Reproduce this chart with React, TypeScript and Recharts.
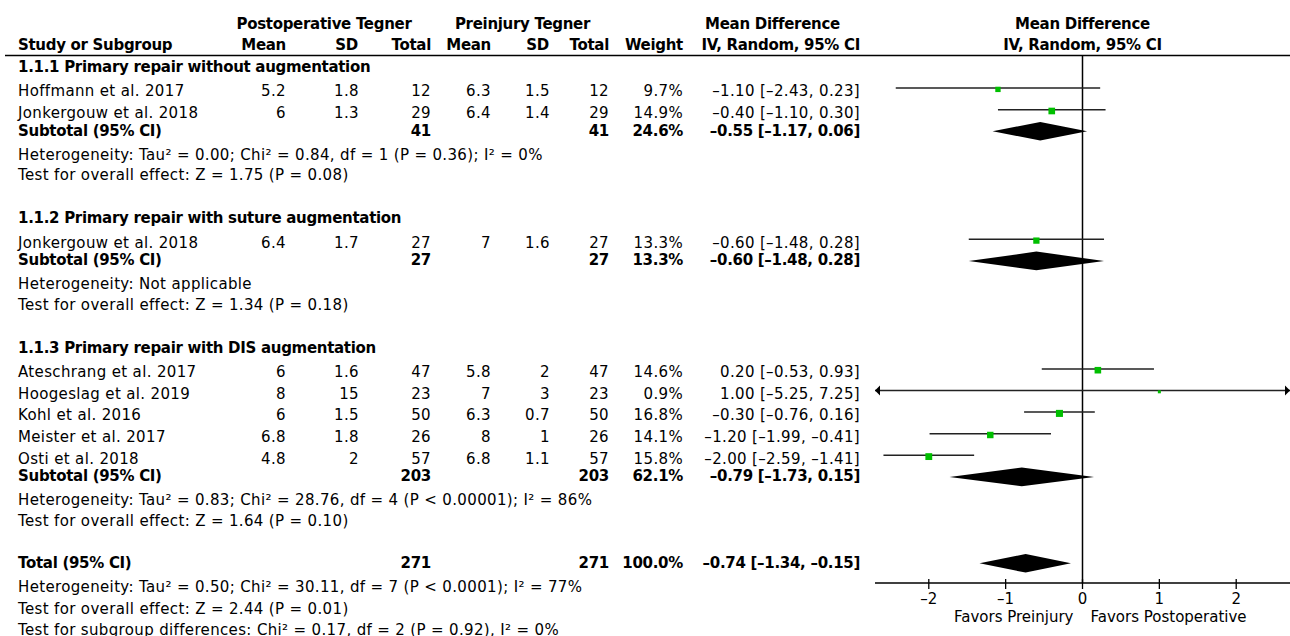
import React from 'react';
import { ComposedChart, XAxis, YAxis, Scatter, Area, ReferenceLine, Customized } from 'recharts';

// ---------------- data ----------------
const subgroupNames = [
  '1.1.1 Primary repair without augmentation',
  '1.1.2 Primary repair with suture augmentation',
  '1.1.3 Primary repair with DIS augmentation',
];
const studyNames = [
  'Hoffmann et al. 2017',
  'Jonkergouw et al. 2018',
  'Jonkergouw et al. 2018',
  'Ateschrang et al. 2017',
  'Hoogeslag et al. 2019',
  'Kohl et al. 2016',
  'Meister et al. 2017',
  'Osti et al. 2018',
];
const studyGroup = [0, 0, 1, 2, 2, 2, 2, 2];
const postMean = [5.2, 6, 6.4, 6, 8, 6, 6.8, 4.8];
const postSD = [1.8, 1.3, 1.7, 1.6, 15, 1.5, 1.8, 2];
const postN = [12, 29, 27, 47, 23, 50, 26, 57];
const preMean = [6.3, 6.4, 7, 5.8, 7, 6.3, 8, 6.8];
const preSD = [1.5, 1.4, 1.6, 2, 3, 0.7, 1, 1.1];
const preN = [12, 29, 27, 47, 23, 50, 26, 57];
const weights = [9.7, 14.9, 13.3, 14.6, 0.9, 16.8, 14.1, 15.8];
const md = [-1.1, -0.4, -0.6, 0.2, 1.0, -0.3, -1.2, -2.0];
const ciLow = [-2.43, -1.1, -1.48, -0.53, -5.25, -0.76, -1.99, -2.59];
const ciHigh = [0.23, 0.3, 0.28, 0.93, 7.25, 0.16, -0.41, -1.41];

const subPostN = [41, 27, 203];
const subPreN = [41, 27, 203];
const subWeight = [24.6, 13.3, 62.1];
const subMd = [-0.55, -0.6, -0.79];
const subLow = [-1.17, -1.48, -1.73];
const subHigh = [0.06, 0.28, 0.15];
const subHet = [
  'Heterogeneity: Tau² = 0.00; Chi² = 0.84, df = 1 (P = 0.36); I² = 0%',
  'Heterogeneity: Not applicable',
  'Heterogeneity: Tau² = 0.83; Chi² = 28.76, df = 4 (P < 0.00001); I² = 86%',
];
const subTest = [
  'Test for overall effect: Z = 1.75 (P = 0.08)',
  'Test for overall effect: Z = 1.34 (P = 0.18)',
  'Test for overall effect: Z = 1.64 (P = 0.10)',
];

const totalPostN = 271;
const totalPreN = 271;
const totalWeight = 100.0;
const totalMd = -0.74;
const totalLow = -1.34;
const totalHigh = -0.15;
const totalHet = 'Heterogeneity: Tau² = 0.50; Chi² = 30.11, df = 7 (P < 0.0001); I² = 77%';
const totalTest = 'Test for overall effect: Z = 2.44 (P = 0.01)';
const subgroupDiff = 'Test for subgroup differences: Chi² = 0.17, df = 2 (P = 0.92), I² = 0%';

const xTicks = [-2, -1, 0, 1, 2];
const favorsLeft = 'Favors Preinjury';
const favorsRight = 'Favors Postoperative';

// ---------------- layout ----------------
const W = 1290;
const H = 636;
const PLOT_LEFT = 875;
const PLOT_TOP = 56;
const PLOT_BOTTOM = 583;
const FIRST_ROW_Y = 66.5;
const ROW_H = 21.6;
const X_DOMAIN: [number, number] = [-2.7, 2.7];
const Y_DOMAIN: [number, number] = [(PLOT_TOP - FIRST_ROW_Y) / ROW_H, (PLOT_BOTTOM - FIRST_ROW_Y) / ROW_H];
const DIAMOND_HALF = 9.3 / ROW_H;

const FONT = 'DejaVu Sans';
const COL = { name: 18, m1: 286, s1: 359, n1: 431, m2: 491, s2: 550, n2: 609, w: 683, ci: 860 };
const BASE_OFF: Record<string, number> = {
  group: 5.3, study: 8.3, subtotal: 4.5, het: 6.7, test: 5.6, total: 4.5, totalHet: 7.4, totalTest: 7.0, subTest: 7.2,
};

type Row = { kind: string; r: number; i?: number; g?: number };
const rows: Row[] = [];
const rowOfStudy: number[] = [];
const rowOfSub: number[] = [];
let rr = 0;
subgroupNames.forEach((_, g) => {
  rows.push({ kind: 'group', r: rr++, g });
  studyGroup.forEach((sg, i) => {
    if (sg === g) {
      rowOfStudy[i] = rr;
      rows.push({ kind: 'study', r: rr++, i });
    }
  });
  rowOfSub[g] = rr;
  rows.push({ kind: 'subtotal', r: rr++, g });
  rows.push({ kind: 'het', r: rr++, g });
  rows.push({ kind: 'test', r: rr++, g });
  rr++;
});
const totalRow = rr;
rows.push({ kind: 'total', r: rr++ });
rows.push({ kind: 'totalHet', r: rr++ });
rows.push({ kind: 'totalTest', r: rr++ });
rows.push({ kind: 'subTest', r: rr++ });

const fmt = (v: number) => v.toFixed(2).replace('-', '–');
const ciText = (m: number, lo: number, hi: number) => `${fmt(m)} [${fmt(lo)}, ${fmt(hi)}]`;
const pct = (w: number) => `${w.toFixed(1)}%`;

const reg = { fontFamily: FONT, fontSize: 15, fill: '#000', letterSpacing: 0.35 } as const;
const bold = { fontFamily: FONT, fontSize: 15, fill: '#000', fontWeight: 700, letterSpacing: -0.3 } as const;

const T = ({ x, y, a = 'end', b = false, children }: any) => (
  <text x={x} y={y} textAnchor={a} style={b ? bold : reg}>{children}</text>
);

const TableText = () => {
  const els: any[] = [];
  rows.forEach((row, k) => {
    const y = FIRST_ROW_Y + row.r * ROW_H + BASE_OFF[row.kind];
    if (row.kind === 'group') {
      els.push(<T key={k} x={COL.name} y={y} a="start" b>{subgroupNames[row.g!]}</T>);
    } else if (row.kind === 'study') {
      const i = row.i!;
      els.push(
        <g key={k}>
          <T x={COL.name} y={y} a="start">{studyNames[i]}</T>
          <T x={COL.m1} y={y}>{String(postMean[i])}</T>
          <T x={COL.s1} y={y}>{String(postSD[i])}</T>
          <T x={COL.n1} y={y}>{String(postN[i])}</T>
          <T x={COL.m2} y={y}>{String(preMean[i])}</T>
          <T x={COL.s2} y={y}>{String(preSD[i])}</T>
          <T x={COL.n2} y={y}>{String(preN[i])}</T>
          <T x={COL.w} y={y}>{pct(weights[i])}</T>
          <T x={COL.ci} y={y}>{ciText(md[i], ciLow[i], ciHigh[i])}</T>
        </g>
      );
    } else if (row.kind === 'subtotal') {
      const g = row.g!;
      els.push(
        <g key={k}>
          <T x={COL.name} y={y} a="start" b>Subtotal (95% CI)</T>
          <T x={COL.n1} y={y} b>{String(subPostN[g])}</T>
          <T x={COL.n2} y={y} b>{String(subPreN[g])}</T>
          <T x={COL.w} y={y} b>{pct(subWeight[g])}</T>
          <T x={COL.ci} y={y} b>{ciText(subMd[g], subLow[g], subHigh[g])}</T>
        </g>
      );
    } else if (row.kind === 'het') {
      els.push(<T key={k} x={COL.name} y={y} a="start">{subHet[row.g!]}</T>);
    } else if (row.kind === 'test') {
      els.push(<T key={k} x={COL.name} y={y} a="start">{subTest[row.g!]}</T>);
    } else if (row.kind === 'total') {
      els.push(
        <g key={k}>
          <T x={COL.name} y={y} a="start" b>Total (95% CI)</T>
          <T x={COL.n1} y={y} b>{String(totalPostN)}</T>
          <T x={COL.n2} y={y} b>{String(totalPreN)}</T>
          <T x={COL.w} y={y} b>{pct(totalWeight)}</T>
          <T x={COL.ci} y={y} b>{ciText(totalMd, totalLow, totalHigh)}</T>
        </g>
      );
    } else if (row.kind === 'totalHet') {
      els.push(<T key={k} x={COL.name} y={y} a="start">{totalHet}</T>);
    } else if (row.kind === 'totalTest') {
      els.push(<T key={k} x={COL.name} y={y} a="start">{totalTest}</T>);
    } else if (row.kind === 'subTest') {
      els.push(<T key={k} x={COL.name} y={y} a="start">{subgroupDiff}</T>);
    }
  });
  return (
    <g>
      <T x={324} y={29} a="middle" b>Postoperative Tegner</T>
      <T x={522.5} y={29} a="middle" b>Preinjury Tegner</T>
      <T x={772.5} y={29} a="middle" b>Mean Difference</T>
      <T x={COL.name} y={50} a="start" b>Study or Subgroup</T>
      <T x={COL.m1} y={50} b>Mean</T>
      <T x={COL.s1 - 1} y={50} b>SD</T>
      <T x={COL.n1} y={50} b>Total</T>
      <T x={COL.m2} y={50} b>Mean</T>
      <T x={COL.s2 - 1} y={50} b>SD</T>
      <T x={COL.n2} y={50} b>Total</T>
      <T x={COL.w} y={50} b>Weight</T>
      <T x={COL.ci} y={50} b>IV, Random, 95% CI</T>
      <line x1={5} x2={W} y1={55.5} y2={55.5} stroke="#000" strokeWidth={1.5} />
      {els}
    </g>
  );
};

const AxisTick = (props: any) => {
  const { x, y, payload } = props;
  const v = payload.value as number;
  const label = v < 0 ? `–${Math.abs(v)}` : String(v);
  return (
    <g>
      <line x1={x} x2={x} y1={y - 4} y2={y + 6} stroke="#000" strokeWidth={1.3} />
      <text x={x} y={y + 20.5} textAnchor="middle" style={{ fontFamily: FONT, fontSize: 15, fill: '#000' }}>{label}</text>
      {v === 0 && (
        <g>
          <text x={x - 9} y={y + 38.5} textAnchor="end" style={{ fontFamily: FONT, fontSize: 15, fill: '#000' }}>{favorsLeft}</text>
          <text x={x + 8} y={y + 38.5} textAnchor="start" style={{ fontFamily: FONT, fontSize: 15, fill: '#000' }}>{favorsRight}</text>
        </g>
      )}
    </g>
  );
};

const HeaderLabel = (props: any) => {
  const vb = props.viewBox || {};
  const x = vb.x;
  return (
    <g>
      <text x={x} y={29} textAnchor="middle" style={bold}>Mean Difference</text>
      <text x={x} y={50} textAnchor="middle" style={bold}>IV, Random, 95% CI</text>
    </g>
  );
};

const CiEnd = (props: any) => {
  const { cx, cy, payload } = props;
  if (payload && payload.arrow === 'left') {
    return <polygon points={`${cx},${cy} ${cx + 5},${cy - 5} ${cx + 5},${cy + 5}`} fill="#000" />;
  }
  if (payload && payload.arrow === 'right') {
    return <polygon points={`${cx},${cy} ${cx - 5},${cy - 5} ${cx - 5},${cy + 5}`} fill="#000" />;
  }
  return <g />;
};

const SquareShape = (props: any) => {
  const { cx, cy, payload } = props;
  const s = Math.max(3, 1.72 * Math.sqrt(payload.w));
  return <rect x={cx - s / 2} y={cy - s / 2 + 1.3} width={s} height={s} fill="#00BF00" />;
};

export default function App() {
  const ciSeries = studyNames.map((_, i) => {
    const r = rowOfStudy[i];
    return [
      { x: Math.max(ciLow[i], X_DOMAIN[0]), y: r, arrow: ciLow[i] < X_DOMAIN[0] ? 'left' : '' },
      { x: Math.min(ciHigh[i], X_DOMAIN[1]), y: r, arrow: ciHigh[i] > X_DOMAIN[1] ? 'right' : '' },
    ];
  });
  const squares = studyNames.map((_, i) => ({ x: md[i], y: rowOfStudy[i], w: weights[i] }));
  const diamond = (est: number, lo: number, hi: number, r: number) => [
    { x: lo, band: [r, r] },
    { x: est, band: [r - DIAMOND_HALF, r + DIAMOND_HALF] },
    { x: hi, band: [r, r] },
  ];
  const diamonds = subgroupNames.map((_, g) => diamond(subMd[g], subLow[g], subHigh[g], rowOfSub[g]));
  diamonds.push(diamond(totalMd, totalLow, totalHigh, totalRow));

  return (
    <div style={{ position: 'absolute', left: 0, top: 0, width: W, height: H, background: '#fff' }}>
      <ComposedChart width={W} height={H} margin={{ top: PLOT_TOP, right: 0, bottom: 0, left: PLOT_LEFT }}>
        <XAxis
          type="number"
          dataKey="x"
          domain={X_DOMAIN}
          allowDataOverflow
          ticks={xTicks}
          height={H - PLOT_BOTTOM}
          tickSize={0}
          tickMargin={0}
          tickLine={false}
          axisLine={{ stroke: '#000', strokeWidth: 1.5 }}
          tick={AxisTick}
          interval={0}
        />
        <YAxis type="number" dataKey="y" domain={Y_DOMAIN} allowDataOverflow reversed hide width={0} />
        <ReferenceLine x={0} stroke="#000" strokeWidth={1.5} label={HeaderLabel} ifOverflow="visible" />
        {diamonds.map((d, k) => (
          <Area
            key={`d${k}`}
            data={d}
            dataKey="band"
            type="linear"
            stroke="none"
            fill="#000"
            fillOpacity={1}
            dot={false}
            activeDot={false}
            isAnimationActive={false}
          />
        ))}
        {ciSeries.map((d, k) => (
          <Scatter
            key={`c${k}`}
            data={d}
            line={{ stroke: '#222', strokeWidth: 1.5 }}
            shape={CiEnd}
            isAnimationActive={false}
          />
        ))}
        <Scatter data={squares} shape={SquareShape} isAnimationActive={false} />
        <Customized component={<TableText />} />
      </ComposedChart>
    </div>
  );
}
